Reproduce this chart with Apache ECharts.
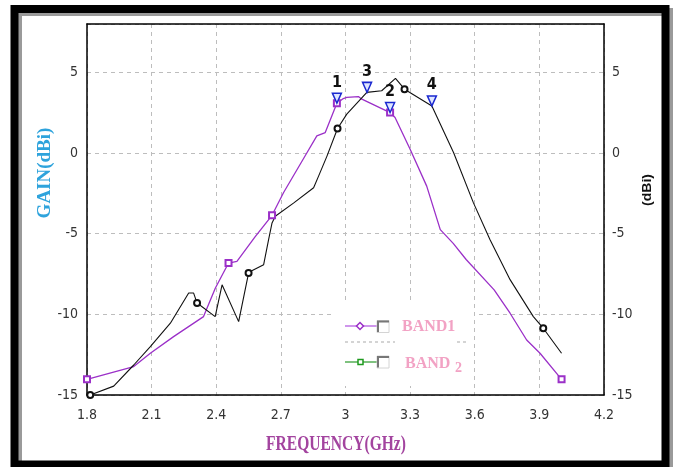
<!DOCTYPE html>
<html>
<head>
<meta charset="utf-8">
<script src="https://cdn.jsdelivr.net/npm/echarts@6/dist/echarts.min.js"></script>
<style>
  html, body { margin: 0; padding: 0; background: #fff; }
  #chart { width: 679px; height: 467px; }
</style>
</head>
<body>
<div id="chart"></div>
<script>
// region data
const xTicks = [1.8, 2.1, 2.4, 2.7, 3, 3.3, 3.6, 3.9, 4.2]
const yTicks = [-15, -10, -5, 0, 5]

const band1Freq = [1.8, 2.017, 2.094, 2.202, 2.341, 2.396, 2.457, 2.496, 2.58, 2.659, 2.712, 2.821, 2.867, 2.906, 2.96, 2.99, 3.006, 3.06, 3.076, 3.207, 3.23, 3.3, 3.377, 3.44, 3.5, 3.56, 3.69, 3.764, 3.841, 3.903, 4.003]
const band1Gain = [-14.03, -13.24, -12.41, -11.38, -10.14, -8.37, -6.82, -6.72, -5.2, -3.86, -2.46, 0.02, 1.06, 1.27, 3.09, 3.38, 3.45, 3.5, 3.34, 2.51, 2.2, 0.23, -2.05, -4.75, -5.6, -6.6, -8.48, -9.93, -11.59, -12.41, -14.03]
const band1Marks = [0, 6, 9, 14, 19, 30]

const band2Freq = [1.815, 1.924, 2.017, 2.094, 2.187, 2.272, 2.295, 2.311, 2.395, 2.427, 2.504, 2.55, 2.565, 2.62, 2.643, 2.659, 2.674, 2.76, 2.852, 2.875, 2.914, 2.963, 3.006, 3.099, 3.168, 3.232, 3.274, 3.401, 3.502, 3.594, 3.671, 3.764, 3.872, 3.918, 4.003]
const band2Gain = [-15.0, -14.45, -13.14, -12.0, -10.55, -8.68, -8.68, -9.3, -10.14, -8.17, -10.45, -7.44, -7.3, -6.92, -5.37, -4.33, -3.92, -3.09, -2.15, -1.43, -0.19, 1.52, 2.41, 3.76, 3.86, 4.63, 3.96, 2.92, 0.02, -3.09, -5.37, -7.85, -10.14, -10.86, -12.41]
const band2Marks = [0, 7, 11, 21, 26, 33]

const markerLabels = ['1', '2', '3', '4']
const markerFreq = [2.96, 3.207, 3.1, 3.401]
const markerGain = [3.09, 2.51, 3.76, 2.92]
// endregion

const narrow = '"Liberation Sans Narrow", "Arial Narrow", "DejaVu Sans Condensed", sans-serif'
const serif = '"Liberation Serif", "Times New Roman", serif'

const zip = (xs, ys) => xs.map((x, i) => [x, ys[i]])

const markerData = (idx) => idx.map((i) => ({
  coord: [markerFreq[i], markerGain[i]],
  value: markerLabels[i],
}))

const markPointStyle = {
  symbol: 'triangle',
  symbolSize: [9, 10],
  symbolRotate: 180,
  symbolOffset: [0, -5],
  itemStyle: { color: '#dfe6ff', borderColor: '#1a28d0', borderWidth: 1.5 },
  label: {
    show: true,
    position: 'top',
    distance: 2,
    formatter: (p) => p.value,
    color: '#111',
    fontWeight: 'bold',
    fontSize: 16,
    fontFamily: narrow,
  },
}

const chart = echarts.init(document.getElementById('chart'))

const axisLineBlack = { show: true, onZero: false, lineStyle: { color: '#000', width: 1.5 } }
const dashed = { show: true, lineStyle: { color: '#bdbdbd', type: [4, 4], width: 1 } }

const yAxisBase = {
  type: 'value',
  min: -15,
  max: 8,
  interval: 5,
  axisLine: axisLineBlack,
  axisTick: { show: false },
  axisLabel: {
    color: '#333',
    fontSize: 14,
    fontFamily: narrow,
    formatter: (v) => (yTicks.includes(v) ? String(v) : ''),
  },
}

chart.setOption({
  animation: false,
  backgroundColor: '#fff',
  grid: {
    left: 87,
    right: 75,
    top: 24,
    bottom: 72,
    show: true,
    borderWidth: 0,
    backgroundColor: '#fff',
  },
  xAxis: [
    {
      type: 'value',
      position: 'bottom',
      min: 1.8,
      max: 4.2,
      interval: 0.3,
      axisLine: axisLineBlack,
      axisTick: { show: false },
      splitLine: dashed,
      axisLabel: {
        margin: 13,
        color: '#333',
        fontSize: 14,
        fontFamily: narrow,
        formatter: (v) => {
          const t = xTicks.find((x) => Math.abs(x - v) < 1e-6)
          return t === undefined ? '' : String(t)
        },
      },
    },
    {
      // top frame line of the plot box
      type: 'value',
      position: 'top',
      min: 1.8,
      max: 4.2,
      axisLine: axisLineBlack,
      axisTick: { show: false },
      axisLabel: { show: false },
      splitLine: { show: false },
    },
  ],
  yAxis: [
    {
      ...yAxisBase,
      position: 'left',
      axisLabel: { ...yAxisBase.axisLabel, margin: 9 },
      splitLine: dashed,
    },
    {
      ...yAxisBase,
      position: 'right',
      axisLabel: { ...yAxisBase.axisLabel, margin: 8 },
      splitLine: { show: false },
    },
  ],
  series: [
    {
      name: 'BAND1',
      type: 'line',
      yAxisIndex: 0,
      data: zip(band1Freq, band1Gain),
      showSymbol: true,
      showAllSymbol: true,
      symbol: (v, p) => (band1Marks.includes(p.dataIndex) ? 'emptyRect' : 'none'),
      symbolSize: 6,
      lineStyle: { color: '#9b30c8', width: 1.3 },
      itemStyle: { color: '#9b30c8', borderWidth: 1.3 },
      z: 3,
      markPoint: { ...markPointStyle, data: markerData([0, 1]) },
    },
    {
      name: 'BAND 2',
      type: 'line',
      yAxisIndex: 1,
      data: zip(band2Freq, band2Gain),
      showSymbol: true,
      showAllSymbol: true,
      symbol: (v, p) => (band2Marks.includes(p.dataIndex) ? 'emptyCircle' : 'none'),
      symbolSize: 6,
      lineStyle: { color: '#111', width: 1.1 },
      itemStyle: { color: '#111', borderWidth: 1 },
      z: 3,
      markPoint: { ...markPointStyle, data: markerData([2, 3]) },
    },
  ],
  graphic: [
    // white legend box over the grid lines
    { type: 'rect', z: 1, shape: { x: 331, y: 304, width: 143, height: 82 }, style: { fill: '#fff' } },
    // legend row separator
    { type: 'line', z: 2, shape: { x1: 345, y1: 342, x2: 395, y2: 342 }, style: { stroke: '#aaa', lineDash: [3, 3] } },
    { type: 'line', z: 2, shape: { x1: 457, y1: 342, x2: 466, y2: 342 }, style: { stroke: '#aaa', lineDash: [3, 3] } },
    // BAND1 legend
    { type: 'line', z: 4, shape: { x1: 345, y1: 326, x2: 377, y2: 326 }, style: { stroke: '#b050e0', lineWidth: 1.2 } },
    { type: 'polygon', z: 5, shape: { points: [[360, 322.5], [363.5, 326], [360, 329.5], [356.5, 326]] }, style: { fill: '#fff', stroke: '#9b30c8', lineWidth: 1.5 } },
    { type: 'rect', z: 5, shape: { x: 377, y: 320.5, width: 12, height: 12 }, style: { fill: '#fff', stroke: '#d4d4d4', lineWidth: 1 } },
    { type: 'polyline', z: 6, shape: { points: [[378, 332], [378, 321.5], [389, 321.5]] }, style: { stroke: '#777', lineWidth: 2 } },
    { type: 'text', z: 5, x: 402, y: 327, style: { text: 'BAND1', font: 'bold 16px ' + serif, fill: '#f2a2c4', verticalAlign: 'middle' } },
    // BAND 2 legend
    { type: 'line', z: 4, shape: { x1: 345, y1: 362, x2: 377, y2: 362 }, style: { stroke: '#2a9a2a', lineWidth: 1.2 } },
    { type: 'rect', z: 5, shape: { x: 358, y: 359.5, width: 5, height: 5 }, style: { fill: '#fff', stroke: '#1f9a1f', lineWidth: 1.5 } },
    { type: 'rect', z: 5, shape: { x: 377, y: 356, width: 12, height: 12 }, style: { fill: '#fff', stroke: '#d4d4d4', lineWidth: 1 } },
    { type: 'polyline', z: 6, shape: { points: [[378, 367.5], [378, 357], [389, 357]] }, style: { stroke: '#777', lineWidth: 2 } },
    { type: 'text', z: 5, x: 405, y: 364, style: { text: 'BAND', font: 'bold 16px ' + serif, fill: '#f2a2c4', verticalAlign: 'middle' } },
    { type: 'text', z: 5, x: 455, y: 368, style: { text: '2', font: 'bold 14px ' + serif, fill: '#f2a2c4', verticalAlign: 'middle' } },
    // axis names
    { type: 'text', z: 5, x: 45, y: 173, rotation: Math.PI / 2, style: { text: 'GAIN(dBi)', font: 'bold 19px ' + serif, fill: '#2ea3dc', align: 'center', verticalAlign: 'middle' } },
    { type: 'text', z: 5, x: 648, y: 190, rotation: Math.PI / 2, scaleY: 0.85, style: { text: '(dBi)', font: 'bold 14px "Liberation Sans", sans-serif', fill: '#111', align: 'center', verticalAlign: 'middle' } },
    { type: 'text', z: 5, x: 336, y: 445, scaleX: 0.74, style: { text: 'FREQUENCY(GHz)', font: 'bold 21px ' + serif, fill: '#a3449f', align: 'center', verticalAlign: 'middle' } },
    // frame
    { type: 'rect', z: 9, shape: { x: 18, y: 12, width: 651, height: 455 }, style: { fill: 'none', stroke: '#9a9a9a', lineWidth: 8 } },
    { type: 'rect', z: 10, shape: { x: 14.5, y: 9, width: 651, height: 455.5 }, style: { fill: 'none', stroke: '#000', lineWidth: 8 } },
  ],
})
</script>
</body>
</html>
